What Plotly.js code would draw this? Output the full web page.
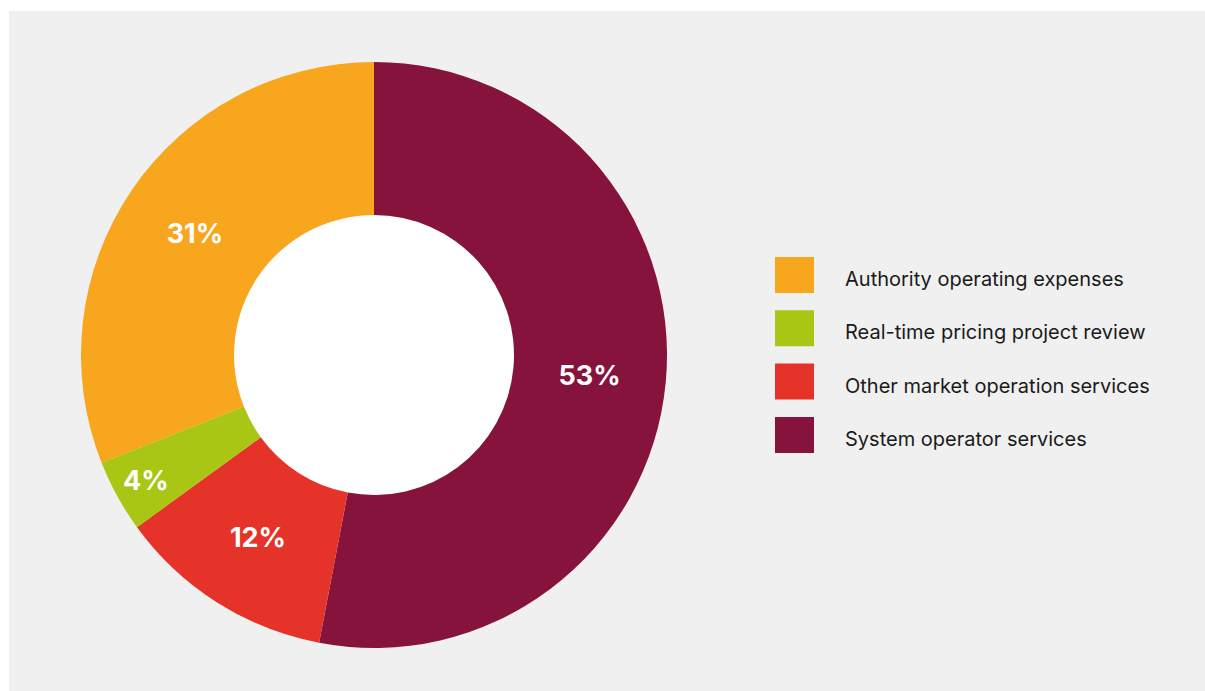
<!DOCTYPE html>
<html>
<head>
<meta charset="utf-8">
<script src="https://cdn.plot.ly/plotly-3.0.1.min.js"></script>
<style>html,body{margin:0;padding:0;background:#fff;}#chart{width:1205px;height:691px;}</style>
</head>
<body>
<div id="chart"></div>
<script>
// Legend order (top to bottom)
var labels = ["Authority operating expenses", "Real-time pricing project review", "Other market operation services", "System operator services"];
var values = [31, 4, 12, 53];
var colors = ["#F8A61E", "#A8C613", "#E63329", "#85133C"];

var W = 1205, H = 691;
var cx = 374, cy = 355, R = 293, r = 140;

// Pie draws clockwise from 12 o'clock starting with System operator services
var pieLabels = labels.slice().reverse();
var pieValues = values.slice().reverse();
var pieColors = colors.slice().reverse();

var trace = {
  type: "pie",
  labels: pieLabels,
  values: pieValues,
  sort: false,
  direction: "clockwise",
  rotation: 0,
  hole: r / R,
  marker: {colors: pieColors, line: {width: 0}},
  textinfo: "percent",
  texttemplate: "%{percent:.0%}",
  textposition: "inside",
  insidetextorientation: "horizontal",
  textfont: {family: "Inter, 'DejaVu Sans', sans-serif", size: 27, color: "#ffffff", weight: 700},
  hoverinfo: "label+percent",
  showlegend: false,
  domain: {x: [(cx - R) / W, (cx + R) / W], y: [(H - cy - R) / H, (H - cy + R) / H]}
};

var shapes = [
  {type: "rect", xref: "paper", yref: "paper", x0: 9 / W, x1: 1, y0: 0, y1: (H - 11) / H,
   fillcolor: "#F0F0F0", line: {width: 0}, layer: "below"},
  {type: "circle", xref: "paper", yref: "paper", x0: (cx - r) / W, x1: (cx + r) / W,
   y0: (H - cy - r) / H, y1: (H - cy + r) / H, fillcolor: "#ffffff", line: {width: 0}, layer: "below"}
];
var annotations = [];
var legTop = 257, legStep = 53.3, sqW = 39, sqH = 36, sqX = 775, txtX = 843;
for (var i = 0; i < labels.length; i++) {
  var y0 = legTop + i * legStep;
  shapes.push({type: "rect", xref: "paper", yref: "paper",
    x0: sqX / W, x1: (sqX + sqW) / W, y0: (H - y0 - sqH) / H, y1: (H - y0) / H,
    fillcolor: colors[i], line: {width: 0}});
  annotations.push({xref: "paper", yref: "paper", x: txtX / W, y: (H - (y0 + sqH / 2 + 4)) / H,
    xanchor: "left", yanchor: "middle", showarrow: false, text: labels[i],
    font: {family: "Inter, 'DejaVu Sans', sans-serif", size: 20, color: "#1a1a1a"}});
}

var layout = {
  width: W, height: H,
  margin: {l: 0, r: 0, t: 0, b: 0},
  paper_bgcolor: "#ffffff",
  plot_bgcolor: "rgba(0,0,0,0)",
  showlegend: false,
  shapes: shapes,
  annotations: annotations
};

Plotly.newPlot("chart", [trace], layout, {displayModeBar: false, staticPlot: true});
</script>
</body>
</html>
